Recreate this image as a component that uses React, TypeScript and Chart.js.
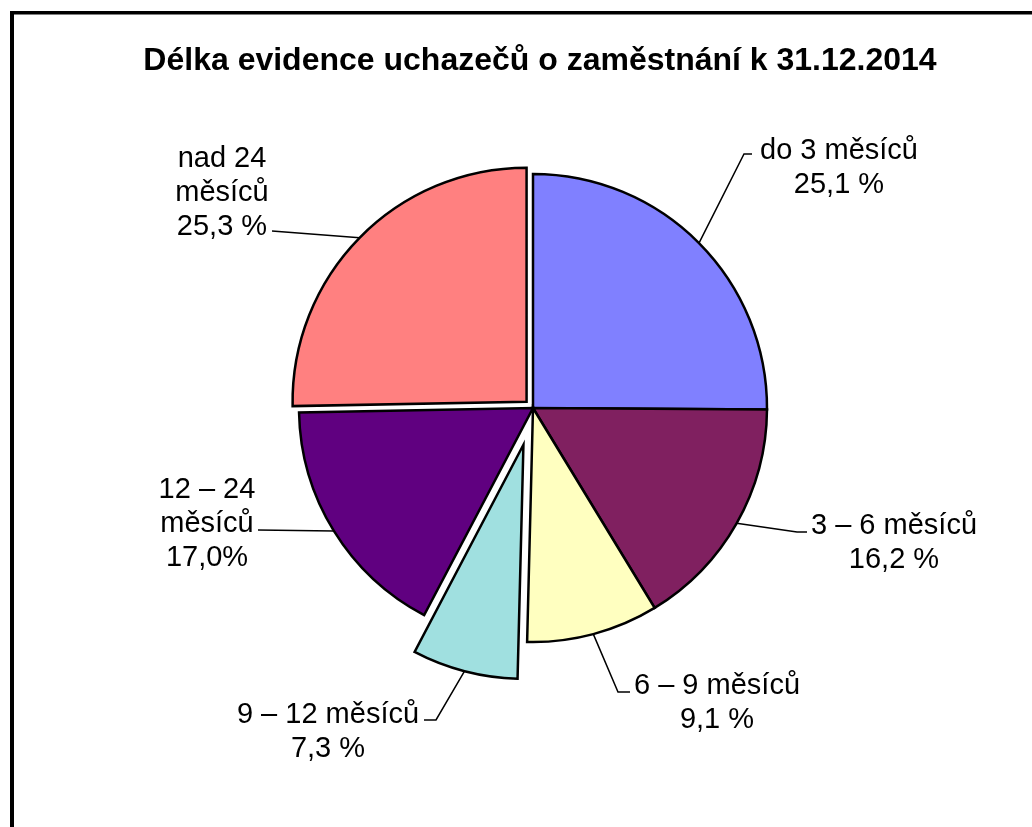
import React, { useEffect, useRef } from "react";
import { Chart, registerables } from "chart.js";

Chart.register(...registerables);

const chartTitle = "Délka evidence uchazečů o zaměstnání k 31.12.2014";
const categories = [
  "do 3 měsíců",
  "3 – 6 měsíců",
  "6 – 9 měsíců",
  "9 – 12 měsíců",
  "12 – 24 měsíců",
  "nad 24 měsíců",
];
const shares = [25.1, 16.2, 9.1, 7.3, 17.0, 25.3];
const labelTexts = [
  ["do 3 měsíců", "25,1 %"],
  ["3 – 6 měsíců", "16,2 %"],
  ["6 – 9 měsíců", "9,1 %"],
  ["9 – 12 měsíců", "7,3 %"],
  ["12 – 24", "měsíců", "17,0%"],
  ["nad 24", "měsíců", "25,3 %"],
];

// styles / layout (kept out of the data arrays)
const sliceColors = ["#8080FF", "#802060", "#FFFFC0", "#A0E0E0", "#600080", "#FF8080"];
const explodePx = [0, 0, 0, 38, 0, 9];
const labelLayout = [
  { cx: 839, y: 159, elbow: [744, 154], end: [752, 154] },
  { cx: 894, y: 534, elbow: [797, 532], end: [807, 532] },
  { cx: 717, y: 694, elbow: [618, 692], end: [630, 692] },
  { cx: 328, y: 723, elbow: [436, 720], end: [424, 720] },
  { cx: 207, y: 498, elbow: [258, 530], end: [258, 530] },
  { cx: 222, y: 167, elbow: [272, 231], end: [272, 231] },
];
const FONT = "'Liberation Sans', Arial, Helvetica, sans-serif";

const explodePlugin = {
  id: "explodeSlices",
  afterUpdate(chart: any) {
    const meta = chart.getDatasetMeta(0);
    meta.data.forEach((el: any, i: number) => {
      const d = explodePx[i] || 0;
      if (!d) return;
      const mid = (el.startAngle + el.endAngle) / 2;
      el.x += Math.cos(mid) * d;
      el.y += Math.sin(mid) * d;
    });
  },
};

const decorPlugin = {
  id: "decor",
  afterDraw(chart: any) {
    const ctx = chart.ctx as CanvasRenderingContext2D;
    ctx.save();
    // frame
    ctx.fillStyle = "#000";
    ctx.fillRect(10, 11, 4, 2000);
    ctx.fillRect(10, 11, 2000, 3.5);
    // title
    ctx.font = `bold 32px ${FONT}`;
    ctx.textAlign = "center";
    ctx.textBaseline = "alphabetic";
    ctx.fillText(chartTitle, 540, 70);
    // labels + leader lines
    const meta = chart.getDatasetMeta(0);
    ctx.strokeStyle = "#000";
    ctx.lineWidth = 1.5;
    meta.data.forEach((el: any, i: number) => {
      const lay = labelLayout[i];
      const mid = (el.startAngle + el.endAngle) / 2;
      const sx = el.x + Math.cos(mid) * el.outerRadius;
      const sy = el.y + Math.sin(mid) * el.outerRadius;
      ctx.beginPath();
      ctx.moveTo(sx, sy);
      ctx.lineTo(lay.elbow[0], lay.elbow[1]);
      ctx.lineTo(lay.end[0], lay.end[1]);
      ctx.stroke();
      ctx.font = `29px ${FONT}`;
      ctx.textAlign = "center";
      labelTexts[i].forEach((line, j) => {
        ctx.fillText(line, lay.cx, lay.y + j * 34);
      });
    });
    ctx.restore();
  },
};

export default function App() {
  const ref = useRef<HTMLCanvasElement | null>(null);
  useEffect(() => {
    if (!ref.current) return;
    const chart = new Chart(ref.current, {
      type: "pie",
      data: {
        labels: categories,
        datasets: [
          {
            data: shares,
            backgroundColor: sliceColors,
            borderColor: "#000",
            borderWidth: 2.5,
            borderJoinStyle: "miter",
          } as any,
        ],
      },
      options: {
        animation: false,
        responsive: false,
        radius: 234,
        layout: { padding: { left: 34, right: 0, top: 0, bottom: 11 } },
        plugins: {
          legend: { display: false },
          tooltip: { enabled: false },
          title: { display: false },
        },
      } as any,
      plugins: [explodePlugin, decorPlugin],
    });
    return () => chart.destroy();
  }, []);
  return (
    <div style={{ position: "absolute", left: 0, top: 0, width: 1032, height: 827, background: "#fff" }}>
      <canvas ref={ref} width={1032} height={827} style={{ display: "block" }} />
    </div>
  );
}
